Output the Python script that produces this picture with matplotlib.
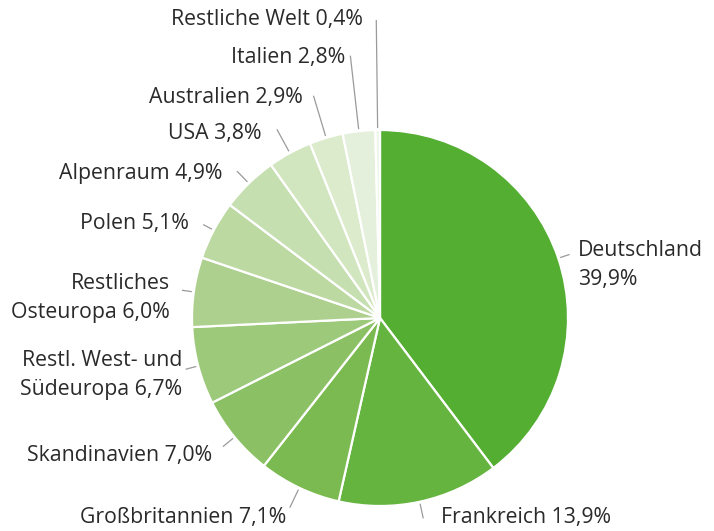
import numpy as np
import matplotlib
matplotlib.use("Agg")
import matplotlib.pyplot as plt

categories = ["Deutschland", "Frankreich", "Großbritannien", "Skandinavien",
              "Restl. West- und\nSüdeuropa", "Restliches\nOsteuropa", "Polen",
              "Alpenraum", "USA", "Australien", "Italien", "Restliche Welt"]
values = [39.9, 13.9, 7.1, 7.0, 6.7, 6.0, 5.1, 4.9, 3.8, 2.9, 2.8, 0.4]
value_labels = ["39,9%", "13,9%", "7,1%", "7,0%", "6,7%", "6,0%", "5,1%",
                "4,9%", "3,8%", "2,9%", "2,8%", "0,4%"]
colors = ["#53ae32", "#65b440", "#7aba50", "#8bc164", "#9dc97b", "#add08e",
          "#bcd9a2", "#c6dfb1", "#d1e6be", "#dbebcc", "#e5f0dc", "#eef5e9"]

W, H = 714, 531
fig = plt.figure(figsize=(W / 100, H / 100), dpi=100)
ax = fig.add_axes([0, 0, 1, 1])

cx, cy, R = 380, H - 318, 188
wedges, _ = ax.pie(values, colors=colors, startangle=90, counterclock=False,
                   center=(cx, cy), radius=R, frame=True,
                   wedgeprops=dict(edgecolor="white", linewidth=1.6))
ax.set_xlim(0, W)
ax.set_ylim(0, H)
ax.set_aspect("equal")
ax.set_axis_off()

# label layout: (x, y_pixel_from_top, ha, outer radius of leader line)
layout = [
    (578, 265, "left", 200),
    (441, 518, "left", 205),
    (286, 518, "right", 210),
    (212, 455, "right", 203),
    (182, 375, "right", 201),
    (170, 298, "right", 200),
    (189, 224, "right", 200),
    (222, 173, "right", 205),
    (262, 134, "right", 215),
    (303, 98, "right", 232),
    (345, 58, "right", 264),
    (363, 20, "right", 298),
]

fam = ["Open Sans", "DejaVu Sans"]
for w, cat, vl, (tx, ty, ha, ro) in zip(wedges, categories, value_labels, layout):
    mid = np.deg2rad((w.theta1 + w.theta2) / 2)
    r0 = R + 2
    ax.plot([cx + r0 * np.cos(mid), cx + ro * np.cos(mid)],
            [cy + r0 * np.sin(mid), cy + ro * np.sin(mid)],
            color="#9a9a9a", lw=0.9, solid_capstyle="butt")
    if cat == "Deutschland":
        txt = cat + "\n" + vl
    else:
        txt = cat + " " + vl
    ax.text(tx, H - ty, txt, ha=ha, va="center", multialignment=ha,
            fontsize=15.3, color="#2a2a2a", family=fam,
            linespacing=1.5)

fig.savefig("out.png", dpi=100)
